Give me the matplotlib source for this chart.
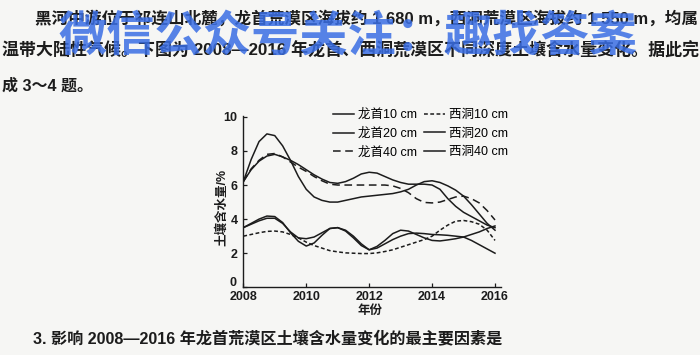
import matplotlib
matplotlib.use("Agg")
import matplotlib.pyplot as plt
from matplotlib.transforms import ScaledTranslation

plt.rcParams['font.family'] = ['Liberation Sans', 'Noto Sans CJK SC', 'DejaVu Sans']

# ---------------- data ----------------
years = [2008, 2008.25, 2008.5, 2008.75, 2009, 2009.25, 2009.5, 2009.75,
         2010, 2010.25, 2010.5, 2010.75, 2011, 2011.25, 2011.5, 2011.75,
         2012, 2012.25, 2012.5, 2012.75, 2013, 2013.25, 2013.5, 2013.75,
         2014, 2014.25, 2014.5, 2014.75, 2015, 2015.25, 2015.5, 2015.75, 2016]
longshou_10 = [6.2, 7.5, 8.55, 9.0, 8.9, 8.3, 7.45, 6.5,
               5.75, 5.3, 5.1, 5.0, 5.0, 5.1, 5.2, 5.3,
               5.35, 5.4, 5.45, 5.5, 5.6, 5.75, 6.0, 6.2,
               6.25, 6.15, 5.95, 5.7, 5.35, 4.85, 4.3, 3.75, 3.35]
longshou_20 = [6.2, 6.9, 7.4, 7.7, 7.8, 7.65, 7.45, 7.2,
               6.9, 6.6, 6.35, 6.15, 6.1, 6.2, 6.4, 6.65,
               6.75, 6.7, 6.5, 6.3, 6.15, 6.05, 6.05, 6.05,
               6.0, 5.75, 5.2, 4.75, 4.4, 4.15, 3.9, 3.65, 3.5]
longshou_40 = [6.2, 6.95, 7.45, 7.8, 7.85, 7.65, 7.35, 7.05,
               6.8, 6.5, 6.25, 6.05, 6.0, 6.0, 6.0, 6.0,
               6.0, 6.0, 6.0, 5.95, 5.8, 5.55, 5.2, 4.98,
               4.95, 5.0, 5.15, 5.3, 5.35, 5.2, 4.95, 4.5, 3.95]
xidong_10 = [3.0, 3.1, 3.2, 3.28, 3.3, 3.25, 3.1, 2.9,
             2.65, 2.45, 2.3, 2.15, 2.08, 2.02, 2.0, 1.98,
             1.98, 2.02, 2.1, 2.2, 2.35, 2.5, 2.65, 2.8,
             3.0, 3.35, 3.65, 3.88, 3.92, 3.85, 3.7, 3.35, 2.75]
xidong_20 = [3.5, 3.75, 4.0, 4.18, 4.15, 3.8, 3.2, 2.7,
             2.42, 2.6, 3.05, 3.45, 3.5, 3.3, 2.9, 2.45,
             2.2, 2.4, 2.75, 3.15, 3.35, 3.3, 3.1, 2.9,
             2.75, 2.72, 2.78, 2.85, 2.95, 3.1, 3.25, 3.45, 3.6]
xidong_40 = [3.5, 3.7, 3.9, 4.05, 4.05, 3.75, 3.25, 2.9,
             2.85, 2.95, 3.2, 3.45, 3.5, 3.35, 3.0, 2.55,
             2.2, 2.3, 2.55, 2.8, 3.0, 3.15, 3.18, 3.15,
             3.1, 3.08, 3.05, 3.0, 2.95, 2.75, 2.5, 2.25, 2.0]

series_labels = ['龙首10 cm', '龙首20 cm', '龙首40 cm', '西洞10 cm', '西洞20 cm', '西洞40 cm']
x_ticks = [2008, 2010, 2012, 2014, 2016]
y_ticks = [0, 2, 4, 6, 8, 10]
x_title = '年份'
y_title = '土壤含水量/%'

para_line1 = '黑河中游位于祁连山北麓，龙首荒漠区海拔约 1 680 m，西洞荒漠区海拔约 1 550 m，均属'
para_line2 = '温带大陆性气候。下图为 2008—2016 年龙首、西洞荒漠区不同深度土壤含水量变化。据此完'
para_line3 = '成 3～4 题。'
question = '3. 影响 2008—2016 年龙首荒漠区土壤含水量变化的最主要因素是'
watermark = '微信公众号关注：趣找答案'

# ---------------- figure ----------------
W, H = 700, 355
fig = plt.figure(figsize=(W / 100, H / 100), dpi=100)
fig.patch.set_facecolor('#f6f6f4')


def fx(x):
    return x / W


def fy(y):
    return 1 - y / H


renderer = fig.canvas.get_renderer()


def fitted_text(x0, x1, y, s, fs, **kw):
    t = fig.text(fx(x0), fy(y), s, fontsize=fs, ha='left', va='center', **kw)
    w = t.get_window_extent(renderer=renderer).width
    t.set_fontsize(fs * (x1 - x0) / w)
    return t


ink = '#1c1c1c'

ax = fig.add_axes([fx(243.3), fy(287.3), (501.3 - 243.3) / W, (287.3 - 116.0) / H])
ax.set_facecolor('none')
ax.set_xlim(2008, 2016.2)
ax.set_ylim(0, 10.05)

lw = 1.1
ax.plot(years, longshou_10, color=ink, lw=lw, label=series_labels[0])
ax.plot(years, longshou_20, color=ink, lw=lw, label=series_labels[1])
ax.plot(years, longshou_40, color=ink, lw=lw, ls=(0, (5, 3)), label=series_labels[2])
ax.plot(years, xidong_10, color=ink, lw=lw, ls=(0, (2.5, 1.6)), label=series_labels[3])
ax.plot(years, xidong_20, color=ink, lw=lw, label=series_labels[4])
ax.plot(years, xidong_40, color=ink, lw=lw, label=series_labels[5])

for s in ['top', 'right']:
    ax.spines[s].set_visible(False)
for s in ['left', 'bottom']:
    ax.spines[s].set_linewidth(1.0)
    ax.spines[s].set_color(ink)

ax.set_xticks(x_ticks)
ax.set_yticks(y_ticks)
ax.set_xticklabels([str(v) for v in x_ticks], fontweight='bold')
ax.set_yticklabels([str(v) for v in y_ticks], fontweight='bold')
ax.tick_params(direction='in', length=3, width=0.9, colors=ink, labelsize=9)
ax.tick_params(axis='x', pad=3)
ax.tick_params(axis='y', pad=4)
# lift the "0" label a little so it sits above the 2008 label, as in the source
zero_lab = ax.get_yticklabels()[0]
zero_lab.set_transform(zero_lab.get_transform() + ScaledTranslation(-1 / 72, 4 / 72, fig.dpi_scale_trans))

fig.text(fx(370), fy(311), x_title, fontsize=9, fontweight='bold', ha='center', va='center', color=ink)
fig.text(fx(222), fy(207), y_title, fontsize=9, fontweight='bold', ha='center', va='center',
         rotation=90, color=ink)

ax.legend(ncol=2, loc='upper left', bbox_to_anchor=(fx(333), fy(109)),
          bbox_transform=fig.transFigure, frameon=False, fontsize=9,
          handlelength=1.7, handletextpad=0.3, columnspacing=0.55,
          labelspacing=0.52, borderpad=0, borderaxespad=0)

# ---------------- surrounding page text ----------------
fitted_text(35, 695, 18, para_line1, 12, color=ink, fontweight='bold')
fitted_text(2, 695, 50, para_line2, 12, color=ink, fontweight='bold')
fig.text(fx(2), fy(86), para_line3, fontsize=11.5, ha='left', va='center', color=ink, fontweight='bold')
fitted_text(33, 502, 339, question, 11, color=ink, fontweight='bold')
fitted_text(58, 637, 38, watermark, 33, color='#3a6ee4', alpha=0.85, fontweight='bold')

fig.savefig('out.png', dpi=100, facecolor=fig.get_facecolor())
